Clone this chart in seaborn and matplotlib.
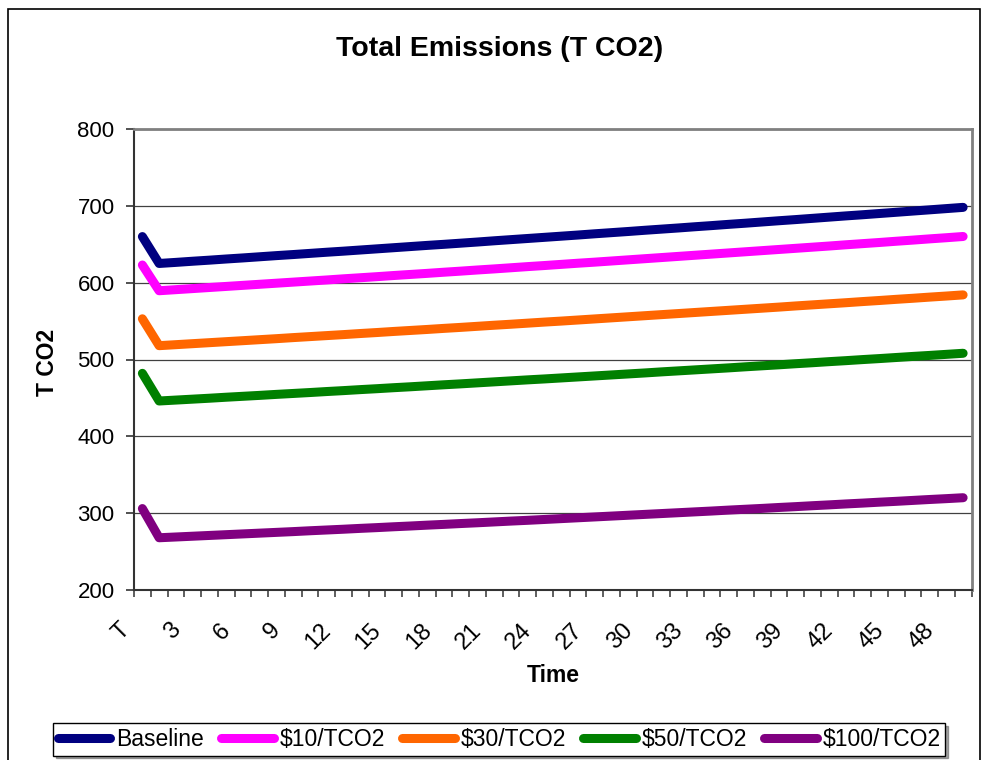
import numpy as np
import pandas as pd
import matplotlib
matplotlib.use("Agg")
import matplotlib.pyplot as plt
import matplotlib.transforms as mtransforms
from matplotlib.lines import Line2D
from matplotlib.patches import Rectangle
import seaborn as sns

# Time periods: "T" is the reference period, followed by years 1..49
periods = ["T"] + [str(i) for i in range(1, 50)]

scenarios = ["Baseline", "$10/TCO2", "$30/TCO2", "$50/TCO2", "$100/TCO2"]
colors = ["#000080", "#FF00FF", "#FF6600", "#008000", "#800080"]

baseline = [660.0,
            625.0, 626.4, 627.9, 629.3, 630.8, 632.2, 633.7, 635.2, 636.6, 638.1,
            639.6, 641.0, 642.5, 644.0, 645.5, 647.0, 648.5, 649.9, 651.4, 652.9,
            654.5, 656.0, 657.5, 659.0, 660.5, 662.0, 663.6, 665.1, 666.6, 668.2,
            669.7, 671.2, 672.8, 674.3, 675.9, 677.4, 679.0, 680.6, 682.1, 683.7,
            685.3, 686.9, 688.4, 690.0, 691.6, 693.2, 694.8, 696.4, 698.0]
tax10 = [623.0,
         589.5, 590.9, 592.3, 593.7, 595.1, 596.5, 597.9, 599.3, 600.7, 602.1,
         603.5, 605.0, 606.4, 607.8, 609.3, 610.7, 612.1, 613.6, 615.0, 616.5,
         617.9, 619.4, 620.9, 622.3, 623.8, 625.3, 626.7, 628.2, 629.7, 631.2,
         632.7, 634.2, 635.7, 637.2, 638.7, 640.2, 641.7, 643.2, 644.7, 646.2,
         647.7, 649.3, 650.8, 652.3, 653.9, 655.4, 657.0, 658.5, 660.1]
tax30 = [553.0,
         518.0, 519.3, 520.6, 521.9, 523.2, 524.5, 525.8, 527.1, 528.5, 529.8,
         531.1, 532.4, 533.8, 535.1, 536.5, 537.8, 539.1, 540.5, 541.8, 543.2,
         544.6, 545.9, 547.3, 548.7, 550.0, 551.4, 552.8, 554.2, 555.6, 557.0,
         558.4, 559.8, 561.2, 562.6, 564.0, 565.4, 566.8, 568.2, 569.7, 571.1,
         572.5, 573.9, 575.4, 576.8, 578.3, 579.7, 581.2, 582.6, 584.1]
tax50 = [482.0,
         446.0, 447.2, 448.4, 449.6, 450.9, 452.1, 453.3, 454.6, 455.8, 457.0,
         458.3, 459.5, 460.8, 462.0, 463.3, 464.5, 465.8, 467.1, 468.3, 469.6,
         470.9, 472.2, 473.5, 474.7, 476.0, 477.3, 478.6, 479.9, 481.2, 482.5,
         483.9, 485.2, 486.5, 487.8, 489.1, 490.5, 491.8, 493.1, 494.5, 495.8,
         497.2, 498.5, 499.9, 501.2, 502.6, 504.0, 505.3, 506.7, 508.1]
tax100 = [306.0,
          268.0, 269.0, 270.0, 271.0, 272.0, 273.0, 274.0, 275.0, 276.0, 277.1,
          278.1, 279.1, 280.2, 281.2, 282.3, 283.3, 284.4, 285.4, 286.5, 287.5,
          288.6, 289.7, 290.7, 291.8, 292.9, 294.0, 295.1, 296.2, 297.3, 298.4,
          299.5, 300.6, 301.7, 302.8, 304.0, 305.1, 306.2, 307.4, 308.5, 309.7,
          310.8, 312.0, 313.1, 314.3, 315.4, 316.6, 317.8, 318.9, 320.1]

series = [baseline, tax10, tax30, tax50, tax100]

df = pd.concat(
    [pd.DataFrame({"pos": np.arange(len(periods)), "period": periods,
                   "value": vals, "scenario": name})
     for name, vals in zip(scenarios, series)],
    ignore_index=True,
)

sns.set_theme(style="white")
plt.rcParams["font.family"] = ["Liberation Sans", "DejaVu Sans"]
plt.rcParams.update({"text.color": "black", "axes.labelcolor": "black",
                     "xtick.color": "black", "ytick.color": "black"})

W, H = 983, 760
fig = plt.figure(figsize=(W / 100, H / 100), dpi=100)
fig.patch.set_facecolor("white")

# plot area in pixel coordinates
left, right, top, bottom = 134, 971.5, 129, 590
ax = fig.add_axes([left / W, 1 - bottom / H, (right - left) / W, (bottom - top) / H])

palette = dict(zip(scenarios, colors))
sns.lineplot(data=df, x="pos", y="value", hue="scenario", hue_order=scenarios,
             palette=palette, linewidth=6.5, solid_capstyle="round",
             solid_joinstyle="round", estimator=None, legend=False, ax=ax,
             zorder=3)

ax.set_xlim(-0.5, len(periods) - 0.5)
ax.set_ylim(200, 800)
ax.set_xlabel("")
ax.set_ylabel("")

# y axis
ax.set_yticks(np.arange(200, 801, 100))
ax.tick_params(axis="y", which="major", length=6, width=1.2, color="#333333",
               labelcolor="black", direction="out", pad=8, labelsize=16,
               left=True)
ax.yaxis.grid(True, color="#404040", linewidth=0.9)
ax.xaxis.grid(False)
ax.set_axisbelow(True)

# x axis: tick marks between categories, labels on every third category
ax.set_xticks(np.arange(0, len(periods), 3))
ax.set_xticklabels(periods[::3], rotation=45, ha="right", va="top")
ax.set_xticks(np.arange(-0.5, len(periods), 1), minor=True)
ax.tick_params(axis="x", which="major", length=0, pad=21, labelsize=17,
               labelcolor="black")
ax.tick_params(axis="x", which="minor", length=5, width=1.1, color="#333333",
               direction="out", bottom=True)
offset = mtransforms.ScaledTranslation(-8 / 100, 0, fig.dpi_scale_trans)
for lbl in ax.get_xticklabels():
    lbl.set_transform(lbl.get_transform() + offset)

for side in ("top", "right"):
    ax.spines[side].set_color("#808080")
    ax.spines[side].set_linewidth(2)
for side in ("left", "bottom"):
    ax.spines[side].set_color("#333333")
    ax.spines[side].set_linewidth(1.5)

# titles and axis labels
fig.text(500 / W, 1 - 49 / H, "Total Emissions (T CO2)", ha="center", va="center",
         fontsize=20.5, fontweight="bold", color="black")
fig.text(553 / W, 1 - 676 / H, "Time", ha="center", va="center",
         fontsize=16.5, fontweight="bold", color="black")
fig.text(48 / W, 1 - 362 / H, "T CO2", ha="center", va="center", rotation=90,
         fontsize=16.5, fontweight="bold", color="black")

# legend
handles = [Line2D([], [], color=c, linewidth=6.5, solid_capstyle="round")
           for c in colors]
leg = fig.legend(handles, scenarios, loc="center",
                 bbox_to_anchor=(499 / W, 1 - 739.5 / H), ncol=5, frameon=True,
                 fancybox=False, shadow=True, edgecolor="black", fontsize=16.5,
                 handlelength=2.3, handletextpad=0.25, columnspacing=0.75,
                 borderpad=0.2, borderaxespad=0)
leg.get_frame().set_linewidth(1.0)
for t in leg.get_texts():
    t.set_color("black")

# outer chart border
fig.patches.append(Rectangle((8 / W, -0.05), (980 - 8) / W, 1 - 9 / H + 0.05,
                             transform=fig.transFigure, fill=False,
                             edgecolor="black", linewidth=1.2))

fig.savefig("out.png", dpi=100)
